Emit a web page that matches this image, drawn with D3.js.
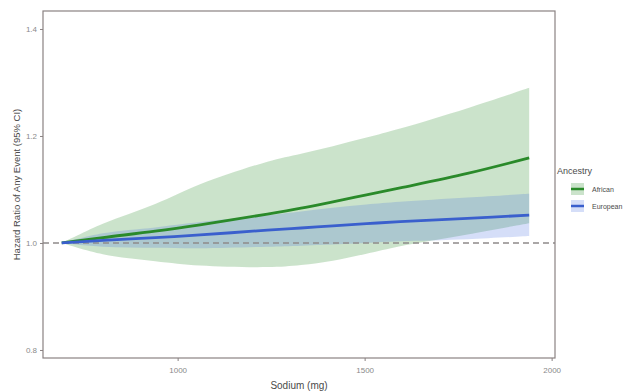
<!DOCTYPE html>
<html>
<head>
<meta charset="utf-8">
<script src="https://cdn.jsdelivr.net/npm/d3@7"></script>
<style>
  html, body { margin: 0; padding: 0; background: #fff; }
  svg { display: block; font-family: "Liberation Sans", Arial, sans-serif; }
</style>
</head>
<body>
<svg id="chart" width="632" height="391"></svg>
<script>
// ---- data ----
const sodium = [690, 800, 940, 1060, 1240, 1330, 1415, 1505, 1595, 1775, 1940];

const africanHR    = [1.000, 1.010, 1.022, 1.034, 1.054, 1.065, 1.077, 1.090, 1.103, 1.130, 1.159];
const africanLower = [1.000, 0.979, 0.966, 0.958, 0.955, 0.959, 0.967, 0.980, 0.994, 1.016, 1.037];
const africanUpper = [1.000, 1.036, 1.073, 1.110, 1.152, 1.167, 1.181, 1.197, 1.214, 1.252, 1.290];

const europeanHR    = [1.000, 1.005, 1.010, 1.015, 1.024, 1.028, 1.032, 1.036, 1.040, 1.046, 1.052];
const europeanLower = [1.000, 0.993, 0.991, 0.990, 0.993, 0.995, 0.997, 1.000, 1.003, 1.007, 1.013];
const europeanUpper = [1.000, 1.018, 1.029, 1.039, 1.052, 1.059, 1.066, 1.072, 1.077, 1.085, 1.092];

const groups = ["African", "European"];
const xTicks = [1000, 1500, 2000];
const yTicks = [0.8, 1.0, 1.2, 1.4];
const refLine = 1.0;

// ---- layout ----
const svg = d3.select("#chart");
const panel = {left: 43, right: 555, top: 11, bottom: 358};

const x = d3.scaleLinear().domain([640, 2009]).range([panel.left, panel.right]);
const y = d3.scaleLinear().domain([0.785, 1.4336]).range([panel.bottom, panel.top]);

const colors = {
  African:  {line: "#2a8a2a", fill: "#2f8f2f", fillOpacity: 0.25},
  European: {line: "#3a5fcd", fill: "#4169e1", fillOpacity: 0.22}
};

const series = [
  {name: "African",  hr: africanHR,  lo: africanLower,  hi: africanUpper},
  {name: "European", hr: europeanHR, lo: europeanLower, hi: europeanUpper}
];

const area = d3.area()
  .x(d => x(d.s)).y0(d => y(d.lo)).y1(d => y(d.hi))
  .curve(d3.curveCatmullRom.alpha(0.5));
const line = d3.line()
  .x(d => x(d.s)).y(d => y(d.v))
  .curve(d3.curveCatmullRom.alpha(0.5));

series.forEach(sr => {
  const pts = sodium.map((s, i) => ({s, lo: sr.lo[i], hi: sr.hi[i]}));
  svg.append("path")
    .attr("d", area(pts))
    .attr("fill", colors[sr.name].fill)
    .attr("fill-opacity", colors[sr.name].fillOpacity)
    .attr("stroke", "none");
});

// reference dashed line
svg.append("line")
  .attr("x1", panel.left).attr("x2", panel.right)
  .attr("y1", y(refLine)).attr("y2", y(refLine))
  .attr("stroke", "#8f8a8a").attr("stroke-width", 1.5)
  .attr("stroke-dasharray", "6,4");

// lines
series.forEach(sr => {
  const pts = sodium.map((s, i) => ({s, v: sr.hr[i]}));
  svg.append("path")
    .attr("d", line(pts))
    .attr("fill", "none")
    .attr("stroke", colors[sr.name].line)
    .attr("stroke-width", 2.8);
});

// panel border
svg.append("rect")
  .attr("x", panel.left).attr("y", panel.top)
  .attr("width", panel.right - panel.left).attr("height", panel.bottom - panel.top)
  .attr("fill", "none").attr("stroke", "#8a8282").attr("stroke-width", 1.2);

// axes
const xAxis = d3.axisBottom(x).tickValues(xTicks).tickSize(3).tickPadding(6).tickFormat(d3.format("d"));
const gx = svg.append("g").attr("transform", `translate(0,${panel.bottom})`).call(xAxis);
gx.select(".domain").remove();
gx.selectAll(".tick line").attr("stroke", "#8a8282");
gx.selectAll(".tick text").attr("fill", "#8a8a8a").style("font-size", "8px")
  .style("font-family", "'Liberation Sans', Arial, sans-serif");

const yAxis = d3.axisLeft(y).tickValues(yTicks).tickSize(3).tickPadding(3).tickFormat(d3.format(".1f"));
const gy = svg.append("g").attr("transform", `translate(${panel.left},0)`).call(yAxis);
gy.select(".domain").remove();
gy.selectAll(".tick line").attr("stroke", "#8a8282");
gy.selectAll(".tick text").attr("fill", "#8a8a8a").style("font-size", "8px")
  .style("font-family", "'Liberation Sans', Arial, sans-serif");

// axis titles
svg.append("text")
  .attr("x", (panel.left + panel.right) / 2).attr("y", 389)
  .attr("text-anchor", "middle").attr("fill", "#4a4a4a")
  .style("font-size", "10px").text("Sodium (mg)");

svg.append("text")
  .attr("transform", `translate(20,${(panel.top + panel.bottom) / 2}) rotate(-90)`)
  .attr("text-anchor", "middle").attr("fill", "#4a4a4a")
  .style("font-size", "9.5px").text("Hazard Ratio of Any Event (95% CI)");

// legend
const lg = svg.append("g").attr("transform", "translate(557,0)");
lg.append("text").attr("x", 0).attr("y", 174)
  .attr("fill", "#4a4a4a").style("font-size", "9px").text("Ancestry");
groups.forEach((g, i) => {
  const cy = 189 + i * 17;
  lg.append("rect").attr("x", 14).attr("y", cy - 6).attr("width", 13).attr("height", 12)
    .attr("fill", colors[g].fill).attr("fill-opacity", colors[g].fillOpacity);
  lg.append("line").attr("x1", 14).attr("x2", 27).attr("y1", cy).attr("y2", cy)
    .attr("stroke", colors[g].line).attr("stroke-width", 2.5);
  lg.append("text").attr("x", 35).attr("y", cy + 2.5)
    .attr("fill", "#4a4a4a").style("font-size", "7px").text(g);
});
</script>
</body>
</html>
